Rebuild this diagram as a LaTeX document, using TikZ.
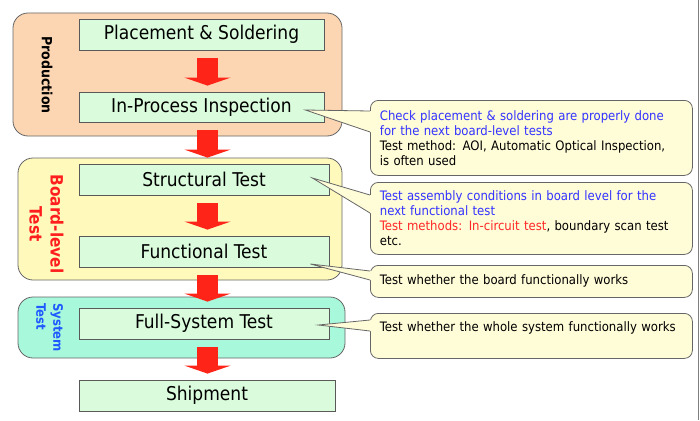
\documentclass[tikz,border=0pt]{standalone}
\usepackage{fontspec}
\setmainfont{DejaVu Sans Condensed}
\usetikzlibrary{arrows.meta}
\usetikzlibrary{calc}

\definecolor{prodfill}{RGB}{252,214,178}
\definecolor{boardfill}{RGB}{255,250,188}
\definecolor{sysfill}{RGB}{168,248,220}
\definecolor{boxgreen}{RGB}{218,252,220}
\definecolor{notefill}{RGB}{255,252,216}
\definecolor{arrowred}{RGB}{255,36,24}
\definecolor{noteblue}{RGB}{51,51,255}
\definecolor{notered}{RGB}{255,40,40}
\definecolor{labelred}{RGB}{255,30,30}
\definecolor{labelblue}{RGB}{30,90,255}

\tikzset{
  groupbox/.style={draw=black!60, line width=0.8pt, rounded corners=15pt, inner sep=0pt},
  stepbox/.style={draw=black!65, line width=0.8pt, fill=boxgreen, minimum height=31pt, inner sep=0pt, font=\fontsize{19}{22}\selectfont},
  flow/.style={draw=arrowred, line width=21pt, -{Triangle[width=46pt, length=8pt]}},
  notebox/.style={draw=black!60, line width=0.8pt, fill=notefill, rounded corners=8pt, text width=303pt, inner xsep=9.5pt, inner ysep=0pt, align=left, anchor=north west, font=\fontsize{13}{15}\selectfont},
  noteline/.style={draw=black!60, line width=0.8pt},
  grouplabel/.style={rotate=-90, inner sep=0pt}
}

\begin{document}
\begin{tikzpicture}[x=1pt, y=-1pt]
\useasboundingbox (0,0) rectangle (700,420);
\draw[black!50, line width=1.5pt] (698.5,0) -- (698.5,420);

% stage groups
\node[groupbox, fill=prodfill, minimum width=329pt, minimum height=123pt] (prod) at (177.5,74.5) {};
\node[groupbox, fill=boardfill, minimum width=324pt, minimum height=122pt] (board) at (180,219) {};
\node[groupbox, fill=sysfill, minimum width=327pt, minimum height=61pt] (sys) at (181.5,327.5) {};

\node[grouplabel, font=\bfseries\fontsize{14}{16}\selectfont] (prodlbl) at (47,75) {Production};
\node[grouplabel, font=\bfseries\fontsize{17}{21}\selectfont, text=labelred, align=center] (boardlbl) at (46.5,224) {Board-level\\Test};
\node[grouplabel, font=\bfseries\fontsize{13}{17}\selectfont, text=labelblue, align=left] (syslbl) at (49.5,327.5) {System\\Test};

% process steps
\node[stepbox, minimum width=245pt] (ps) at (201.5,34.5) {Placement \& Soldering};
\node[stepbox, minimum width=245pt, minimum height=30pt] (ipi) at (201.5,107) {In-Process Inspection};
\node[stepbox, minimum width=250pt] (st) at (204,179.5) {Structural Test};
\node[stepbox, minimum width=250pt] (ft) at (204,251.5) {Functional Test};
\node[stepbox, minimum width=250pt] (fst) at (204,323.5) {Full-System Test};
\node[stepbox, minimum width=256pt] (sh) at (207,395.5) {Shipment};

\coordinate (ax) at (207.5,0);
\draw[flow] ($(ps.south -| ax)+(0,8)$) -- ($(ipi.north -| ax)+(0,-6)$);
\draw[flow] ($(ipi.south -| ax)+(0,8)$) -- ($(st.north -| ax)+(0,-6)$);
\draw[flow] ($(st.south -| ax)+(0,8)$) -- ($(ft.north -| ax)+(0,-6)$);
\draw[flow] ($(ft.south -| ax)+(0,8)$) -- ($(fst.north -| ax)+(0,-6)$);
\draw[flow] ($(fst.south -| ax)+(0,8)$) -- ($(sh.north -| ax)+(0,-6)$);

% notes
\node[notebox, minimum height=75pt] (n1) at (370,100) {\color{noteblue}Check placement \& soldering are properly done\\for the next board-level tests\\\color{black}Test method: AOI, Automatic Optical Inspection,\\is often used};
\node[notebox, minimum height=72pt] (n2) at (370,182) {\color{noteblue}Test assembly conditions in board level for the\\next functional test\\\color{notered}Test methods: In-circuit test\color{black}, boundary scan test\\etc.};
\node[notebox, minimum height=32pt] (n3) at (370,265) {Test whether the board functionally works};
\node[notebox, minimum height=45pt] (n4) at (370,313) {Test whether the whole system functionally works\\\strut};

\coordinate (t1) at ($(ipi.east)+(-19,3)$);
\coordinate (t2) at ($(st.east)+(-17,-1.5)$);
\coordinate (t3) at ($(ft.east)+(-19,12.5)$);
\coordinate (t4) at ($(fst.east)+(-11,1.5)$);

\fill[notefill] ($(n1.north west)+(2,11)$) -- ($(n1.north west)+(0,11)$) -- (t1) -- ($(n1.north west)+(0,32)$) -- ($(n1.north west)+(2,32)$) -- cycle;
\draw[noteline] ($(n1.north west)+(0,11)$) -- (t1) -- ($(n1.north west)+(0,32)$);
\fill[notefill] ($(n2.north west)+(2,13)$) -- ($(n2.north west)+(0,13)$) -- (t2) -- ($(n2.north west)+(0,31)$) -- ($(n2.north west)+(2,31)$) -- cycle;
\draw[noteline] ($(n2.north west)+(0,13)$) -- (t2) -- ($(n2.north west)+(0,31)$);
\fill[notefill] ($(n3.north west)+(2,6)$) -- ($(n3.north west)+(0,6)$) -- (t3) -- ($(n3.north west)+(0,15)$) -- ($(n3.north west)+(2,15)$) -- cycle;
\draw[noteline] ($(n3.north west)+(0,6)$) -- (t3) -- ($(n3.north west)+(0,15)$);
\fill[notefill] ($(n4.north west)+(2,7)$) -- ($(n4.north west)+(0,7)$) -- (t4) -- ($(n4.north west)+(0,18)$) -- ($(n4.north west)+(2,18)$) -- cycle;
\draw[noteline] ($(n4.north west)+(0,7)$) -- (t4) -- ($(n4.north west)+(0,18)$);
\end{tikzpicture}
\end{document}
